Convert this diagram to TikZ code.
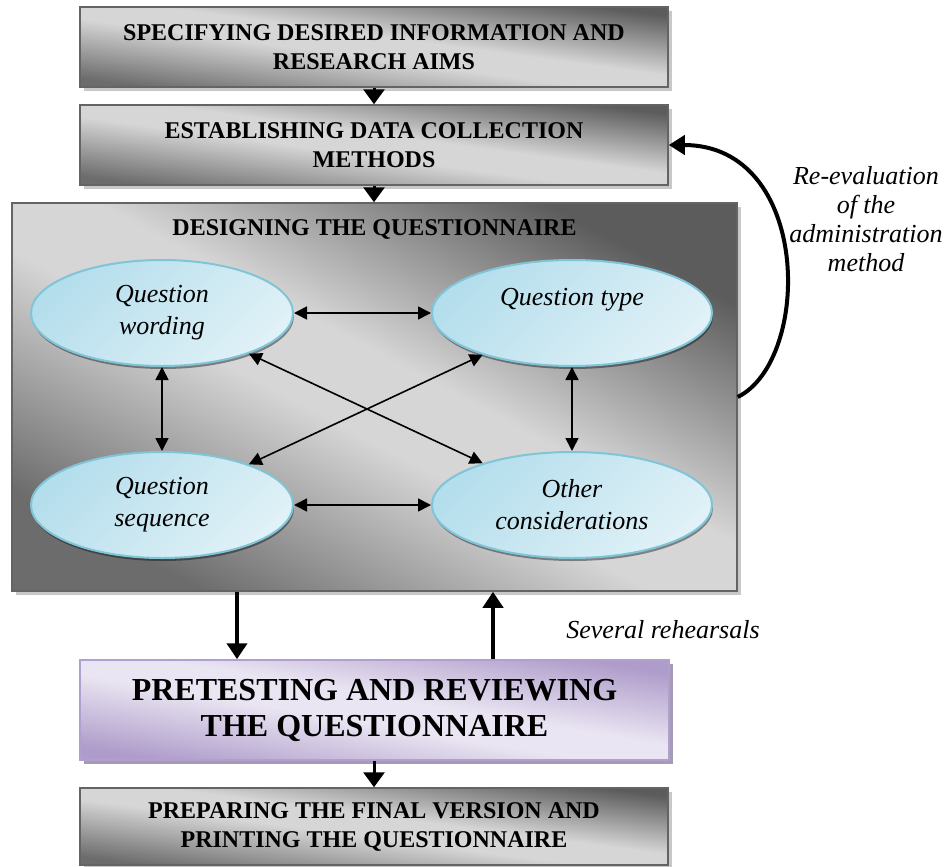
\documentclass[tikz,border=0pt]{standalone}
\usepackage{fontspec}
\setmainfont{Liberation Serif}
\usetikzlibrary{arrows.meta,shadows,shapes.geometric}
\definecolor{gdarkA}{RGB}{92,92,92}
\definecolor{gdarkB}{RGB}{108,108,108}
\definecolor{glight}{RGB}{214,214,214}
\definecolor{gborder}{RGB}{100,100,100}
\definecolor{pdark}{RGB}{174,156,202}
\definecolor{plight}{RGB}{234,229,242}
\definecolor{pborder}{RGB}{176,160,208}
\definecolor{edark}{RGB}{180,222,236}
\definecolor{elight}{RGB}{224,241,247}
\definecolor{eborder}{RGB}{128,196,216}
\definecolor{shadowgray}{RGB}{200,200,200}
\definecolor{shadowpurple}{RGB}{166,154,182}
\pgfdeclareverticalshading{grayband}{100bp}{color(0bp)=(gdarkB); color(25bp)=(gdarkB);
  color(46bp)=(glight); color(54bp)=(glight); color(75bp)=(gdarkA); color(100bp)=(gdarkA)}
\pgfdeclareverticalshading{purpleband}{100bp}{color(0bp)=(pdark); color(25bp)=(pdark);
  color(46bp)=(plight); color(54bp)=(plight); color(75bp)=(pdark); color(100bp)=(pdark)}
\begin{document}
\begin{tikzpicture}[x=1pt,y=-1pt,
  graybox/.style={draw=gborder, line width=1.5pt, shade, shading=grayband, shading angle=#1,
    drop shadow={shadow xshift=4pt,shadow yshift=-4pt,fill=shadowgray,opacity=1},
    inner sep=0pt, align=center, font=\fontsize{24}{29}\selectfont\bfseries},
  purplebox/.style={draw=pborder, line width=1.5pt, shade, shading=purpleband, shading angle=#1,
    drop shadow={shadow xshift=4pt,shadow yshift=-4pt,fill=shadowpurple,opacity=1},
    inner sep=0pt, align=center, font=\fontsize{32}{36}\selectfont\bfseries},
  oval/.style={ellipse, inner sep=0pt, draw=eborder, line width=2pt,
    top color=edark, bottom color=elight, shading angle=45,
    drop shadow={shadow xshift=1pt,shadow yshift=-3pt,fill=black,opacity=0.4},
    align=center, font=\fontsize{26}{32}\selectfont\itshape},
  boxarrow/.style={line width=3pt, -{Triangle[width=21pt,length=15pt]}},
  bigarrow/.style={line width=4.5pt, -{Triangle[width=20pt,length=16pt]}},
  dblarrow/.style={line width=1.6pt, {Triangle[width=13pt,length=13pt]}-{Triangle[width=13pt,length=13pt]}},
  label/.style={font=\fontsize{26}{29}\selectfont\itshape, align=center, inner sep=0pt}
]
\useasboundingbox (0,0) rectangle (945,867);

% top boxes
\node[graybox=-7.7, minimum width=588pt, minimum height=80pt] (b1) at (374,47)
  {SPECIFYING DESIRED INFORMATION AND\\RESEARCH AIMS};
\node[graybox=-7.7, minimum width=588pt, minimum height=80pt] (b2) at (374,145)
  {ESTABLISHING DATA COLLECTION\\METHODS};

% big design box
\node[graybox=-28, minimum width=725pt, minimum height=388pt] (big) at (374.5,397) {};
\node[font=\fontsize{24}{29}\selectfont\bfseries, inner sep=0pt] (title) at (374.5,229)
  {DESIGNING THE QUESTIONNAIRE};

% ellipses
\node[oval, minimum width=262pt, minimum height=106pt] (qw) at (162,313) {Question\\wording};
\node[oval, minimum width=280pt, minimum height=106pt] (qt) at (572,313) {Question type\\\mbox{}};
\node[oval, minimum width=262pt, minimum height=106pt] (qs) at (162,505) {Question\\sequence};
\node[oval, minimum width=280pt, minimum height=106pt] (oc) at (572,505) {Other\\considerations};

\draw[dblarrow] (qw) -- (qt);
\draw[dblarrow] (qs) -- (oc);
\draw[dblarrow] (qw) -- (qs);
\draw[dblarrow] (qt) -- (oc);
\draw[dblarrow] (qw) -- (oc);
\draw[dblarrow] (qt) -- (qs);

% lower boxes
\node[purplebox=-9.6, minimum width=589pt, minimum height=100pt] (pre) at (374.5,710)
  {PRETESTING AND REVIEWING\\THE QUESTIONNAIRE};
\node[graybox=-7.5, minimum width=588pt, minimum height=77pt] (fin) at (374,826.5)
  {PREPARING THE FINAL VERSION AND\\PRINTING THE QUESTIONNAIRE};

% arrows between boxes
\draw[boxarrow] (b1.south) -- (b2.north);
\draw[boxarrow] (b2.south) -- (big.north -| b2.south);
\draw[boxarrow] (pre.south -| fin.north) -- (fin.north);

\coordinate (xl) at (237,0);
\coordinate (xr) at (493,0);
\draw[bigarrow] (big.south -| xl) -- (pre.north -| xl);
\draw[bigarrow] (pre.north -| xr) -- (big.south -| xr);

% feedback curve
\draw[line width=4pt, -{Triangle[width=19pt,length=16pt]}]
  (big.east) .. controls (812,360) and (812,145) .. (b2.east);

% labels
\node[label] (reeval) at (866,219) {Re-evaluation\\of the\\administration\\method};
\node[label] (sev) at (663,630) {Several rehearsals};
\end{tikzpicture}
\end{document}
